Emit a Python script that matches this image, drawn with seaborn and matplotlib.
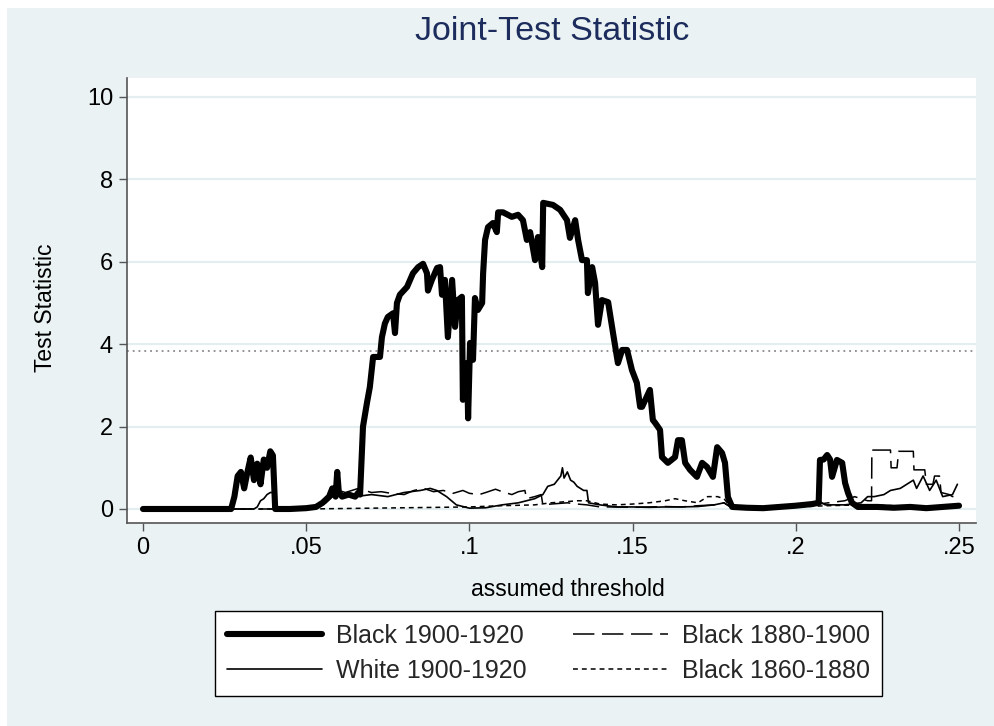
import matplotlib
matplotlib.use("Agg")
import matplotlib.pyplot as plt
import seaborn as sns
import pandas as pd
from matplotlib.patches import Rectangle
from matplotlib.lines import Line2D

# ---------------- data ----------------
b1900_x = [0.000, 0.027, 0.028, 0.029, 0.030, 0.031, 0.032, 0.033, 0.034, 0.035,
           0.036, 0.037, 0.038, 0.039, 0.0398, 0.0405, 0.045, 0.050, 0.053, 0.055,
           0.057, 0.058, 0.059, 0.0595, 0.060, 0.061, 0.063, 0.065, 0.066, 0.0665,
           0.0674, 0.0686, 0.0695, 0.0705, 0.0726, 0.0732, 0.0741, 0.075, 0.0766, 0.0772,
           0.0778, 0.0787, 0.0809, 0.0827, 0.0843, 0.0858, 0.087, 0.0873, 0.0885, 0.0901,
           0.091, 0.0916, 0.0925, 0.0934, 0.0947, 0.0956, 0.0965, 0.0977, 0.098, 0.0993,
           0.0996, 0.1002, 0.1011, 0.1017, 0.1026, 0.1039, 0.1042, 0.1048, 0.1057, 0.1072,
           0.1084, 0.1088, 0.1103, 0.113, 0.1149, 0.1164, 0.1176, 0.1186, 0.1201, 0.121,
           0.1223, 0.1226, 0.1256, 0.1278, 0.1299, 0.1308, 0.1324, 0.1333, 0.1345, 0.136,
           0.1363, 0.1376, 0.1385, 0.1394, 0.1406, 0.1425, 0.144, 0.1455, 0.1468, 0.1483,
           0.1498, 0.1513, 0.1523, 0.1529, 0.1553, 0.1562, 0.1569, 0.1584, 0.159, 0.1608,
           0.163, 0.1639, 0.1651, 0.1661, 0.1676, 0.1697, 0.1713, 0.1728, 0.1746, 0.1759,
           0.1774, 0.1783, 0.1792, 0.1805, 0.185, 0.19, 0.195, 0.200, 0.205, 0.2070,
           0.2074, 0.2085, 0.2096, 0.2105, 0.2111, 0.2126, 0.2142, 0.2151, 0.216, 0.2172,
           0.219, 0.225, 0.230, 0.235, 0.240, 0.245, 0.250]
b1900_y = [0, 0, 0.3, 0.8, 0.9, 0.5, 0.9, 1.25, 0.7, 1.1,
           0.6, 1.2, 1.0, 1.4, 1.3, 0, 0, 0.02, 0.05, 0.15,
           0.3, 0.5, 0.3, 0.9, 0.4, 0.3, 0.35, 0.3, 0.4, 0.35,
           2.0, 2.57, 2.96, 3.69, 3.69, 4.17, 4.5, 4.66, 4.75, 4.27,
           5.0, 5.2, 5.39, 5.72, 5.87, 5.95, 5.72, 5.3, 5.56, 5.85,
           5.87, 5.2, 5.56, 4.17, 5.56, 4.42, 5.07, 5.15, 2.65, 3.54,
           2.2, 4.03, 3.62, 5.12, 4.83, 5.0, 5.72, 6.53, 6.84, 6.94,
           6.72, 7.2, 7.2, 7.09, 7.14, 7.01, 6.53, 6.72, 6.04, 6.6,
           5.87, 7.43, 7.38, 7.26, 7.01, 6.58, 7.01, 6.53, 6.04, 6.04,
           5.24, 5.87, 5.49, 4.47, 5.07, 5.02, 4.27, 3.54, 3.86, 3.86,
           3.37, 3.06, 2.48, 2.48, 2.89, 2.16, 2.09, 1.92, 1.26, 1.12,
           1.26, 1.67, 1.67, 1.12, 0.95, 0.78, 1.12, 1.02, 0.78, 1.5,
           1.36, 1.12, 0.29, 0.05, 0.03, 0.02, 0.05, 0.08, 0.12, 0.15,
           1.19, 1.2, 1.31, 1.2, 0.78, 1.19, 1.12, 0.63, 0.39, 0.15,
           0.05, 0.05, 0.03, 0.05, 0.02, 0.05, 0.08]

w1900_x = [0.0, 0.034, 0.035, 0.036, 0.037, 0.038, 0.039, 0.0402, 0.0408, 0.050,
           0.054, 0.056, 0.058, 0.060, 0.062, 0.065, 0.070, 0.075, 0.080, 0.085,
           0.088, 0.090, 0.093, 0.096, 0.100, 0.105, 0.110, 0.115, 0.120, 0.1225,
           0.124, 0.126, 0.127, 0.128, 0.1285, 0.129, 0.130, 0.131, 0.132, 0.133,
           0.134, 0.135, 0.136, 0.1365, 0.140, 0.145, 0.150, 0.155, 0.160, 0.165,
           0.170, 0.175, 0.178, 0.180, 0.185, 0.190, 0.195, 0.200, 0.205, 0.207,
           0.209, 0.215, 0.220, 0.222, 0.224, 0.227, 0.229, 0.232, 0.234, 0.236,
           0.237, 0.239, 0.241, 0.243, 0.245, 0.248, 0.2495]
w1900_y = [0, 0, 0.05, 0.2, 0.25, 0.35, 0.4, 0.4, 0, 0,
           0.05, 0.15, 0.3, 0.4, 0.35, 0.3, 0.35, 0.3, 0.4, 0.45,
           0.5, 0.45, 0.3, 0.1, 0.02, 0.03, 0.1, 0.15, 0.25, 0.35,
           0.55, 0.6, 0.7, 0.8, 1.0, 0.75, 0.9, 0.7, 0.65, 0.55,
           0.5, 0.45, 0.45, 0.15, 0.1, 0.05, 0.05, 0.04, 0.05, 0.05,
           0.06, 0.1, 0.15, 0.05, 0.04, 0.05, 0.08, 0.1, 0.15, 0.2,
           0.1, 0.1, 0.15, 0.3, 0.3, 0.35, 0.45, 0.5, 0.6, 0.7,
           0.5, 0.8, 0.45, 0.7, 0.3, 0.35, 0.6]

b1880_x = [0.0, 0.045, 0.050, 0.055, 0.058, 0.060, 0.062, 0.064, 0.066, 0.068,
           0.070, 0.073, 0.076, 0.080, 0.083, 0.086, 0.089, 0.092, 0.095, 0.098,
           0.100, 0.103, 0.105, 0.108, 0.110, 0.113, 0.115, 0.117, 0.1175, 0.120,
           0.122, 0.1225, 0.125, 0.130, 0.133, 0.136, 0.140, 0.145, 0.150, 0.155,
           0.160, 0.165, 0.170, 0.175, 0.178, 0.180, 0.190, 0.200, 0.205, 0.210,
           0.215, 0.218, 0.222, 0.2232, 0.2233, 0.229, 0.2292, 0.231, 0.2315, 0.236,
           0.2362, 0.2395, 0.240, 0.242, 0.2425, 0.244, 0.2445, 0.247, 0.248, 0.250]
b1880_y = [0, 0, 0.02, 0.1, 0.3, 0.45, 0.4, 0.45, 0.5, 0.45,
           0.4, 0.42, 0.38, 0.35, 0.45, 0.5, 0.42, 0.45, 0.38, 0.45,
           0.38, 0.35, 0.4, 0.48, 0.42, 0.35, 0.42, 0.45, 0.25, 0.3,
           0.35, 0.1, 0.12, 0.15, 0.12, 0.1, 0.05, 0.05, 0.04, 0.05,
           0.06, 0.05, 0.08, 0.1, 0.15, 0.05, 0.03, 0.05, 0.1, 0.15,
           0.2, 0.3, 0.2, 0.2, 1.43, 1.43, 1.0, 1.0, 1.4, 1.4,
           0.95, 0.95, 0.6, 0.6, 0.8, 0.8, 0.4, 0.35, 0.3, 0.35]

b1860_x = [0.0, 0.050, 0.060, 0.070, 0.080, 0.090, 0.100, 0.110, 0.120, 0.125,
           0.130, 0.133, 0.136, 0.140, 0.145, 0.150, 0.155, 0.160, 0.163, 0.166,
           0.170, 0.173, 0.176, 0.178, 0.180, 0.190, 0.200, 0.210, 0.220, 0.230,
           0.240, 0.250]
b1860_y = [0, 0, 0.01, 0.02, 0.03, 0.04, 0.05, 0.08, 0.1, 0.15,
           0.18, 0.2, 0.2, 0.12, 0.1, 0.12, 0.15, 0.2, 0.25, 0.2,
           0.15, 0.3, 0.3, 0.25, 0.05, 0.03, 0.05, 0.08, 0.1, 0.08,
           0.05, 0.05]

labels = ["Black 1900-1920", "White 1900-1920", "Black 1880-1900", "Black 1860-1880"]
critical_value = 3.84
x_ticks = [0, 0.05, 0.10, 0.15, 0.20, 0.25]
x_tick_labels = ["0", ".05", ".1", ".15", ".2", ".25"]
y_ticks = [0, 2, 4, 6, 8, 10]

# ---------------- style ----------------
sns.set_theme(style="white")
plt.rcParams["font.family"] = ["Liberation Sans", "DejaVu Sans"]

BG = "#EAF2F3"
GRID = "#E4EDEF"
TITLE_C = "#1C2C5C"
AX_C = "#555555"
THICK = 4.4

fig = plt.figure(figsize=(9.94, 7.26), dpi=100)
fig.patch.set_facecolor("white")
fig.add_artist(Rectangle((7 / 994, 0), 987 / 994, 718 / 726,
                         transform=fig.transFigure, facecolor=BG,
                         edgecolor="none", zorder=-10))

ax = fig.add_axes([127 / 994, 1 - 523 / 726, (976 - 127) / 994, (523 - 78) / 726])
ax.set_facecolor("white")

for yv in y_ticks:
    ax.axhline(yv, color=GRID, lw=1.6, zorder=0)
ax.axhline(critical_value, color="#8A8A8A", lw=1.3, ls=(0, (1, 2.2)), zorder=1)

series = [
    (b1860_x, b1860_y, labels[3], dict(lw=1.1, dashes=(3.2, 2.6))),
    (b1880_x, b1880_y, labels[2], dict(lw=1.1, dashes=(14, 5))),
    (w1900_x, w1900_y, labels[1], dict(lw=1.2)),
    (b1900_x, b1900_y, labels[0], dict(lw=THICK)),
]
for xs, ys, lab, kw in series:
    df = pd.DataFrame({"x": xs, "y": ys})
    sns.lineplot(data=df, x="x", y="y", ax=ax, color="black", estimator=None,
                 sort=False, legend=False, solid_capstyle="round",
                 solid_joinstyle="round", zorder=3, **kw)

ax.set_xlim(-0.0049, 0.2552)
ax.set_ylim(-0.34, 10.46)
ax.set_xticks(x_ticks)
ax.set_xticklabels(x_tick_labels)
ax.set_yticks(y_ticks)
ax.set_yticklabels([str(v) for v in y_ticks])

for s in ["top", "right"]:
    ax.spines[s].set_visible(False)
for s in ["left", "bottom"]:
    ax.spines[s].set_color(AX_C)
    ax.spines[s].set_linewidth(1.2)
ax.tick_params(axis="both", direction="out", length=6, width=1.0, color=AX_C,
               labelsize=17, labelcolor="black", pad=4, bottom=True, left=True)

ax.set_xlabel("")
ax.set_ylabel("")
fig.text(568 / 994, 1 - 590 / 726, "assumed threshold", fontsize=16.5,
         ha="center", va="center", color="black")
fig.text(45 / 994, 1 - 308 / 726, "Test Statistic", fontsize=16.5, rotation=90,
         ha="center", va="center", color="black")
fig.text(552 / 994, 1 - 32 / 726, "Joint-Test Statistic", fontsize=24.5,
         ha="center", va="center", color=TITLE_C)

handles = [
    Line2D([], [], color="black", lw=THICK, solid_capstyle="round"),
    Line2D([], [], color="black", lw=1.2),
    Line2D([], [], color="black", lw=1.1, dashes=(14, 5)),
    Line2D([], [], color="black", lw=1.1, dashes=(3.2, 2.6)),
]
leg = fig.legend(handles, labels, ncol=2, loc="center",
                 bbox_to_anchor=(548.5 / 994, 1 - 653.5 / 726),
                 bbox_transform=fig.transFigure, fontsize=18,
                 frameon=True, fancybox=False, edgecolor="black", framealpha=1.0,
                 handlelength=3.8, handletextpad=0.55, columnspacing=1.85,
                 labelspacing=0.45, borderpad=0.5)
leg.get_frame().set_linewidth(1.0)
leg.get_frame().set_facecolor("white")

fig.savefig("out.png", dpi=100, facecolor=fig.get_facecolor())
